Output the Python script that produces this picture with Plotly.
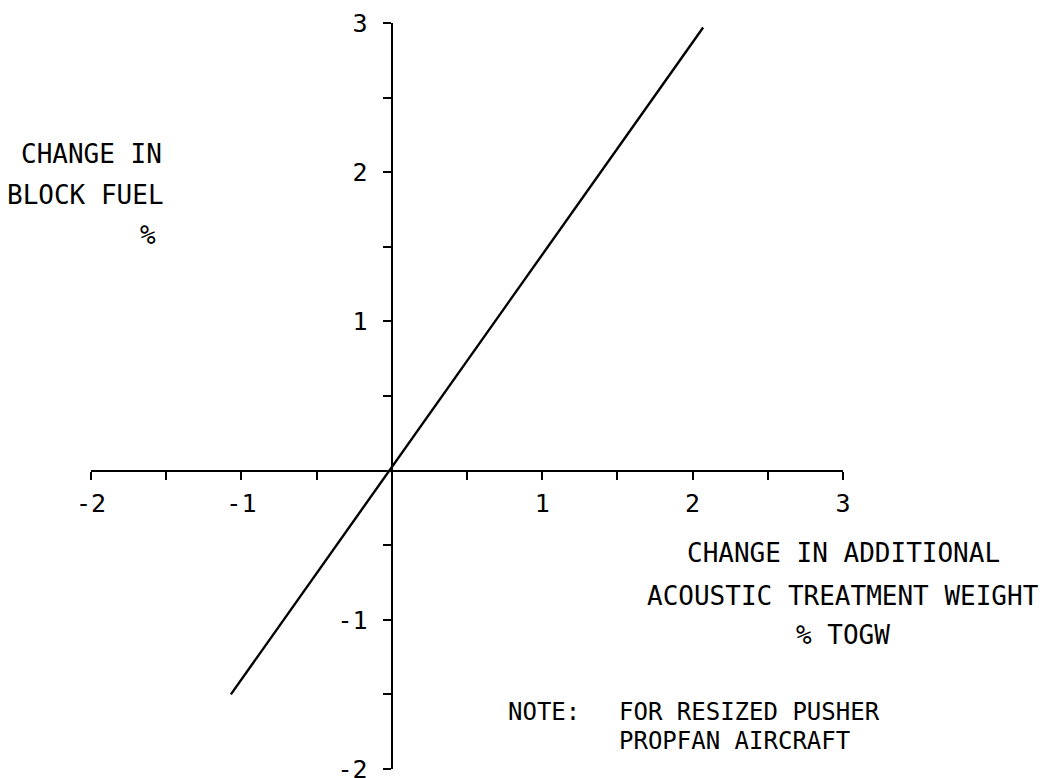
import plotly.graph_objects as go

# Data
line_x = [-1.07, 2.07]
line_y = [-1.5, 2.97]

x_tickvals = [-2, -1.5, -1, -0.5, 0, 0.5, 1, 1.5, 2, 2.5, 3]
x_ticktext = ["-2", "", "-1", "", "", "", "1", "", "2", "", "3"]
y_tickvals = [-2, -1.5, -1, -0.5, 0, 0.5, 1, 1.5, 2, 2.5, 3]
y_ticktext = ["-2", "", "-1", "", "", "", "1", "", "2", "", "3"]

FONT = "DejaVu Sans Mono"

fig = go.Figure()
fig.add_trace(go.Scatter(x=line_x, y=line_y, mode="lines",
                         line=dict(color="black", width=2.4),
                         showlegend=False, hoverinfo="skip"))

axis_common = dict(showgrid=False, zeroline=False, showline=True,
                   linecolor="black", linewidth=2.4, ticks="outside",
                   ticklen=8, tickwidth=2.2, tickcolor="black",
                   tickmode="array", anchor="free", position=0.4,
                   automargin=False, ticklabeloverflow="allow",
                   tickfont=dict(family=FONT, size=25, color="black"),
                   fixedrange=True)

fig.update_layout(
    width=1050, height=778,
    margin=dict(l=91, r=207, t=23, b=9),
    paper_bgcolor="white", plot_bgcolor="white",
    xaxis=dict(range=[-2, 3], tickvals=x_tickvals, ticktext=x_ticktext,
               ticklabelstandoff=2, **axis_common),
    yaxis=dict(range=[-2, 3], tickvals=y_tickvals, ticktext=y_ticktext,
               ticklabelstandoff=10, **axis_common),
)

tfont = dict(family=FONT, size=26, color="black")
nfont = dict(family=FONT, size=24, color="black")

def ann(text, x, y, xanchor="center", font=tfont):
    fig.add_annotation(text=text, x=x, y=y, xref="x", yref="y",
                       showarrow=False, xanchor=xanchor, yanchor="middle",
                       font=font)

# Y-axis title
ann("CHANGE IN", -1.515, 2.125, "right")
ann("BLOCK FUEL", -1.50, 1.85, "right")
ann("%", -1.555, 1.58, "right")

# X-axis title
ann("CHANGE IN ADDITIONAL", 3.0, -0.555)
ann("ACOUSTIC TREATMENT WEIGHT", 3.0, -0.84)
ann("% TOGW", 3.0, -1.10)

# Note
ann("NOTE:", 0.757, -1.618, "left", nfont)
ann("FOR RESIZED PUSHER", 1.50, -1.618, "left", nfont)
ann("PROPFAN AIRCRAFT", 1.50, -1.812, "left", nfont)

fig.write_html("out.html",
               config={"displayModeBar": False},
               post_script="document.body.style.margin='0';document.body.style.overflow='hidden';")
